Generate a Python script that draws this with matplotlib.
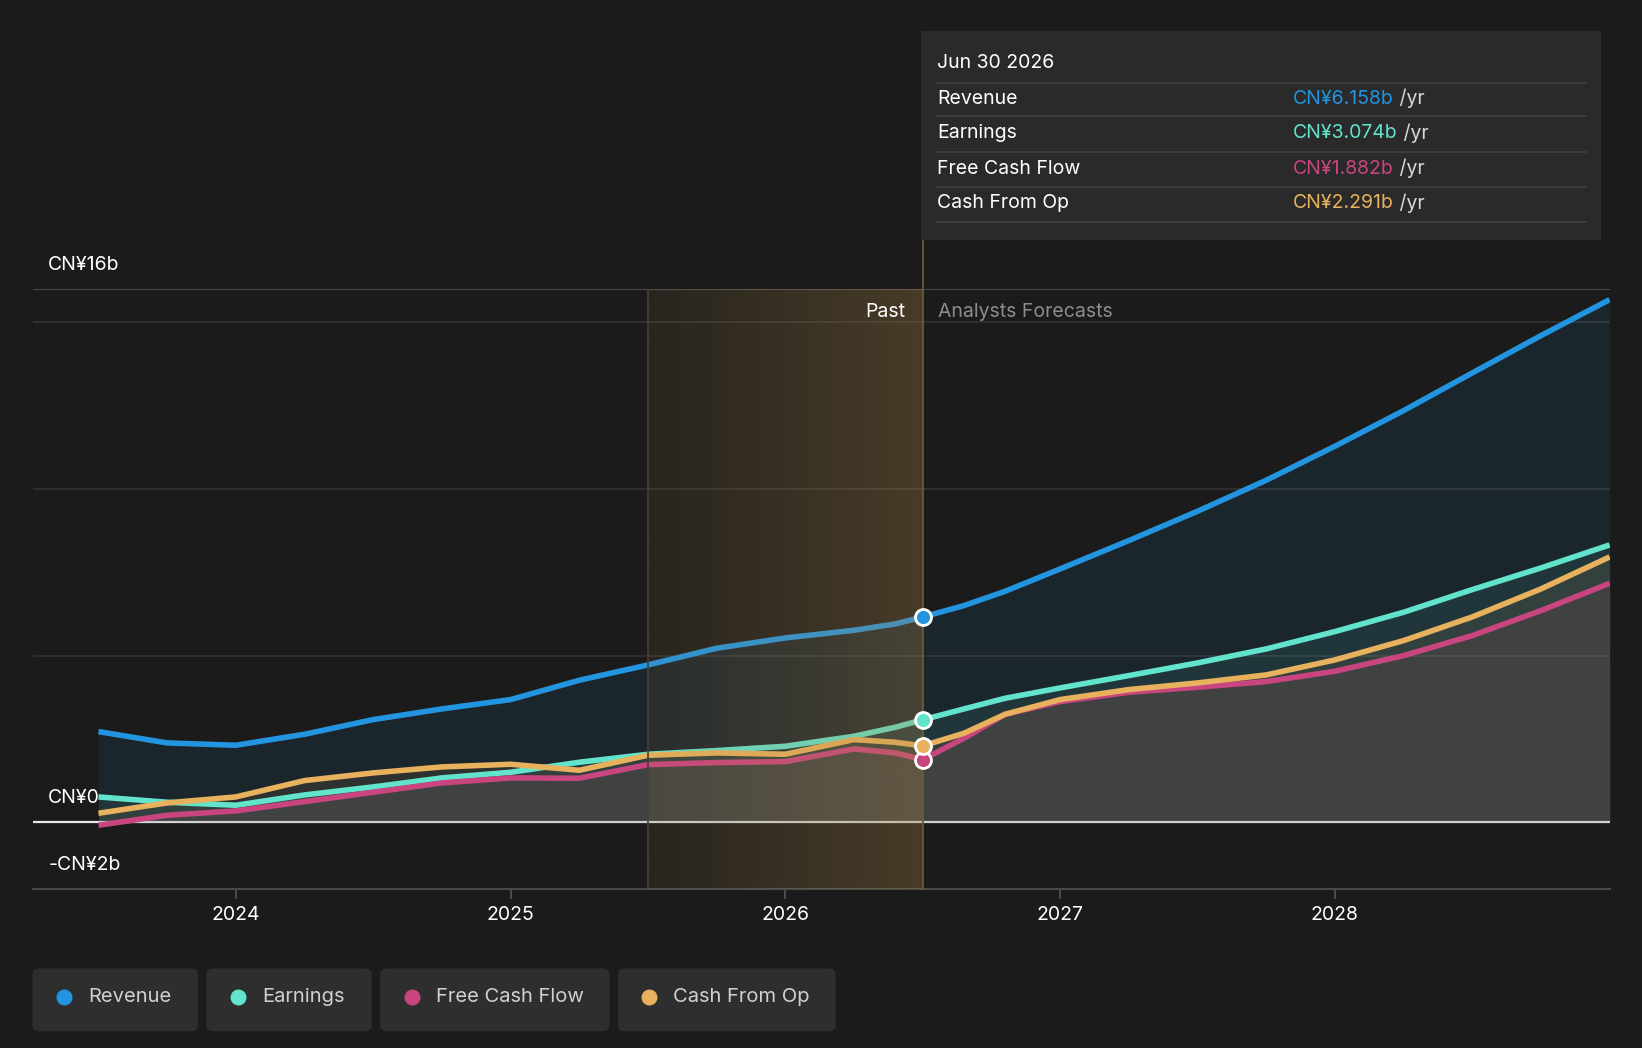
import numpy as np
import matplotlib
matplotlib.use("Agg")
import matplotlib.pyplot as plt
from matplotlib.patches import Rectangle, FancyBboxPatch
from matplotlib.lines import Line2D
import matplotlib.transforms as mtransforms

plt.rcParams["font.family"] = ["Inter", "DejaVu Sans"]

# data (CN¥ billions, fractional years)
years = [2023.5, 2023.75, 2024.0, 2024.25, 2024.5, 2024.75, 2025.0, 2025.25, 2025.5,
         2025.75, 2026.0, 2026.25, 2026.4, 2026.5, 2026.65, 2026.8, 2027.0, 2027.25,
         2027.5, 2027.75, 2028.0, 2028.25, 2028.5, 2028.75, 2029.0]
revenue = [2.72, 2.38, 2.31, 2.64, 3.08, 3.40, 3.68, 4.26, 4.72, 5.22, 5.53, 5.76, 5.95,
           6.158, 6.50, 6.93, 7.60, 8.45, 9.33, 10.26, 11.28, 12.35, 13.48, 14.60, 15.68]
earnings = [0.76, 0.60, 0.51, 0.82, 1.06, 1.33, 1.50, 1.80, 2.04, 2.15, 2.28, 2.58, 2.85,
            3.074, 3.40, 3.72, 4.03, 4.40, 4.78, 5.20, 5.72, 6.30, 6.98, 7.63, 8.32]
fcf = [-0.09, 0.21, 0.34, 0.62, 0.90, 1.18, 1.33, 1.32, 1.73, 1.79, 1.82, 2.20, 2.08,
       1.882, 2.52, 3.24, 3.62, 3.90, 4.05, 4.22, 4.53, 5.00, 5.60, 6.35, 7.17]
cfo = [0.27, 0.58, 0.76, 1.25, 1.48, 1.66, 1.74, 1.56, 2.01, 2.08, 2.04, 2.48, 2.40,
       2.291, 2.67, 3.24, 3.68, 3.98, 4.18, 4.42, 4.87, 5.45, 6.16, 7.00, 7.96]

names = ["Revenue", "Earnings", "Free Cash Flow", "Cash From Op"]
colors = ["#2394df", "#62e3cc", "#c9457f", "#e8b15d"]
tip_values = ["CN¥6.158b", "CN¥3.074b", "CN¥1.882b", "CN¥2.291b"]
tip_date = "Jun 30 2026"
tick_years = [2024, 2025, 2026, 2027, 2028]
y_labels = [(16, "CN¥16b"), (0, "CN¥0"), (-2, "-CN¥2b")]
past_start, past_end = 2025.5, 2026.5

bg = "#1b1b1b"
fig = plt.figure(figsize=(16.42, 10.48), dpi=100, facecolor=bg)
ax = fig.add_axes([0.0198, 0.1518, 0.9605, 0.5725])
ax.set_facecolor(bg)
ax.set_xlim(2023.26, 2029.0)
ax.set_ylim(-2, 16)

for gy in [5, 10, 15]:
    ax.axhline(gy, color="#333333", lw=1.2, zorder=1)
ax.axhline(16, color="#4a4a4a", lw=1.5, zorder=1)
ax.axhline(0, color="#e8e8e8", lw=1.6, zorder=2)

series = [revenue, earnings, fcf, cfo]
for vals, c in zip(series, colors):
    ax.fill_between(years, 0, vals, color=c, alpha=0.09, lw=0, zorder=2)
for vals, c in zip(series, colors):
    ax.plot(years, vals, color=c, lw=4, solid_capstyle="butt",
            solid_joinstyle="round", zorder=3)

# past shading gradient
grad = np.zeros((2, 200, 4))
grad[..., 0] = 177 / 255
grad[..., 1] = 137 / 255
grad[..., 2] = 70 / 255
grad[..., 3] = np.linspace(0.09, 0.30, 200)[None, :]
ax.imshow(grad, extent=[past_start, past_end, -2, 16], aspect="auto",
          zorder=4, interpolation="bilinear")
ax.axvline(past_start, color="#4a4030", lw=1.2, zorder=4)
ax.plot([past_end, past_end], [-2, 17.48], color="#6b5a3a", lw=1.3,
        zorder=4, clip_on=False)

idx = years.index(past_end)
for vals, c in zip(series, colors):
    ax.plot(past_end, vals[idx], "o", ms=11.5, mfc=c, mec="white", mew=2, zorder=6)

ax.text(past_end - 0.065, 15.3, "Past", color="white", fontsize=14,
        ha="right", va="center", zorder=7)
ax.text(past_end + 0.055, 15.3, "Analysts Forecasts", color="#8c8c8c",
        fontsize=14, ha="left", va="center", zorder=7)

trans = mtransforms.blended_transform_factory(ax.transAxes, ax.transData)
label_y = {16: 16.73, 0: 0.72, -2: -1.29}
for v, lab in y_labels:
    ax.text(0.0099, label_y[v], lab, transform=trans, color="white",
            fontsize=14, ha="left", va="center", zorder=7)

for s in ["top", "right", "left"]:
    ax.spines[s].set_visible(False)
ax.spines["bottom"].set_color("#4a4a4a")
ax.spines["bottom"].set_linewidth(1.5)
ax.set_yticks([])
ax.set_xticks(tick_years)
ax.set_xticklabels([str(t) for t in tick_years])
ax.tick_params(axis="x", colors="#555555", length=7, width=1.2, labelsize=14,
               labelcolor="white", pad=5)

# tooltip
fig.patches.append(Rectangle((0.5612, 0.7712), 0.4139, 0.1988,
                             transform=fig.transFigure, facecolor="#2a2a2a",
                             edgecolor="none", zorder=0))
fig.text(0.5708, 0.940, tip_date, color="white", fontsize=14, va="center")
for sy in [0.921, 0.889, 0.855, 0.822, 0.788]:
    fig.add_artist(Line2D([0.5708, 0.9656], [sy, sy], transform=fig.transFigure,
                          color="#3c3c3c", lw=1.5))
row_y = [0.906, 0.873, 0.839, 0.806]
for ry, n, val, c in zip(row_y, names, tip_values, colors):
    fig.text(0.5708, ry, n, color="white", fontsize=14, va="center")
    t = fig.text(0.7876, ry, val, color=c, fontsize=14, va="center")
    fig.add_artist(plt.Annotation(" /yr", xy=(1, 0.5), xycoords=t, color="#d8d8d8",
                                  fontsize=14, va="center", ha="left"))

# legend buttons
btn_x = [(31, 189), (197, 355), (363, 582), (590, 798)]
for (x0, x1), n, c in zip(btn_x, names, colors):
    fx0, fx1 = x0 / 1568, x1 / 1568
    fig.patches.append(FancyBboxPatch((fx0, 0.016), fx1 - fx0, 0.0599,
                                      boxstyle="round,pad=0,rounding_size=0.004",
                                      transform=fig.transFigure, facecolor="#2e2e2e",
                                      edgecolor="none", mutation_aspect=1.567))
    fig.add_artist(Line2D([(x0 + 30) / 1568], [0.049], marker="o", ms=10.5,
                          color=c, mec=c, transform=fig.transFigure))
    fig.text((x0 + 53) / 1568, 0.049, n, color="#d0d0d0", fontsize=14.5,
             va="center", ha="left")

fig.savefig("out.png", dpi=100, facecolor=bg)
